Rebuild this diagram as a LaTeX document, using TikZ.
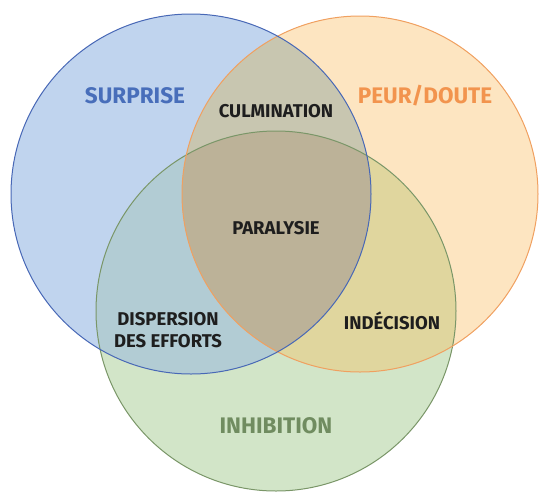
\documentclass[tikz,border=0pt]{standalone}
\usepackage{fontspec}
\setmainfont{Fira Sans}
\definecolor{bfill}{RGB}{192,212,238}
\definecolor{ofill}{RGB}{253,229,193}
\definecolor{gfill}{RGB}{210,229,200}
\definecolor{bofill}{RGB}{200,198,176}
\definecolor{ogfill}{RGB}{224,214,158}
\definecolor{bgfill}{RGB}{178,204,212}
\definecolor{allfill}{RGB}{188,178,152}
\definecolor{bline}{RGB}{72,104,182}
\definecolor{oline}{RGB}{240,160,96}
\definecolor{gline}{RGB}{122,150,104}
\definecolor{btext}{RGB}{72,110,186}
\definecolor{otext}{RGB}{242,148,78}
\definecolor{gtext}{RGB}{112,140,96}
\definecolor{ktext}{RGB}{30,30,30}
\tikzset{
  ring/.style={line width=1pt},
  biglabel/.style={font=\fontsize{22.5}{26}\selectfont\bfseries, inner sep=0pt},
  smalllabel/.style={font=\fontsize{18.5}{22.5}\selectfont\bfseries, text=ktext, inner sep=0pt, align=center}
}
\begin{document}
\begin{tikzpicture}[x=1pt,y=-1pt]
\useasboundingbox (0,0) rectangle (541,491);
\def\cb{(191,194) circle[radius=180]}
\def\co{(360,194) circle[radius=178]}
\def\cg{(276,311) circle[radius=180]}
% base fills
\fill[bfill] \cb;
\fill[ofill] \co;
\fill[gfill] \cg;
% pairwise overlaps
\begin{scope}\clip \cb; \fill[bofill] \co; \end{scope}
\begin{scope}\clip \co; \fill[ogfill] \cg; \end{scope}
\begin{scope}\clip \cb; \fill[bgfill] \cg; \end{scope}
\begin{scope}\clip \cb; \clip \co; \fill[allfill] \cg; \end{scope}
% outlines
\draw[ring, gline] \cg;
\draw[ring, oline] \co;
\draw[ring, bline] \cb;
% labels
\node[biglabel, text=btext] (surprise) at (135,96) {SURPRISE};
\node[biglabel, text=otext] (peur) at (425,96) {PEUR/DOUTE};
\node[biglabel, text=gtext] (inhib) at (276,426) {INHIBITION};
\node[smalllabel] (culm) at (276,111) {CULMINATION};
\node[smalllabel] (para) at (276,228) {PARALYSIE};
\node[smalllabel] (disp) at (168,330) {DISPERSION\\DES EFFORTS};
\node[smalllabel] (indec) at (392,321) {INDÉCISION};
\end{tikzpicture}
\end{document}
